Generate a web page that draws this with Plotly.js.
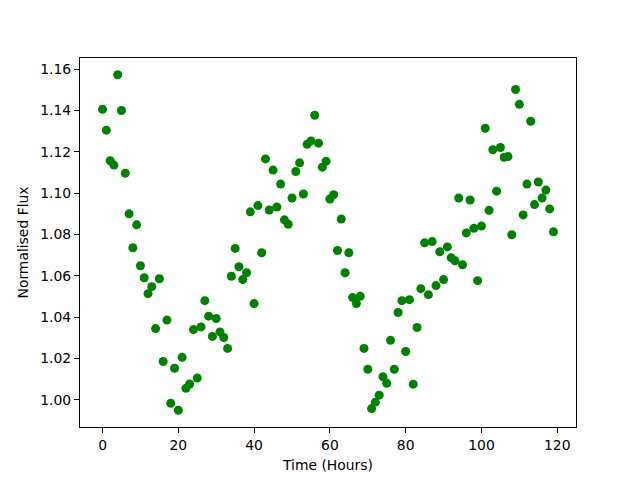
<!DOCTYPE html>
<html>
<head>
<meta charset="utf-8">
<script src="https://cdn.plot.ly/plotly-3.0.1.min.js"></script>
<style>html,body{margin:0;padding:0;background:#fff;}#chart{width:640px;height:480px;}</style>
</head>
<body>
<div id="chart"></div>
<script>
// Time in hours (one observation per hour)
const hours = [
  0,1,2,3,4,5,6,7,8,9,10,11,12,13,14,15,16,17,18,19,
  20,21,22,23,24,25,26,27,28,29,30,31,32,33,34,35,36,37,38,39,
  40,41,42,43,44,45,46,47,48,49,50,51,52,53,54,55,56,57,58,59,
  60,61,62,63,64,65,66,67,68,69,70,71,72,73,74,75,76,77,78,79,
  80,81,82,83,84,85,86,87,88,89,90,91,92,93,94,95,96,97,98,99,
  100,101,102,103,104,105,106,107,108,109,110,111,112,113,114,115,116,117,118,119
];
// Normalised flux values
const flux = [
  1.1406,1.1305,1.1157,1.1136,1.1573,1.1400,1.1097,1.0900,1.0736,1.0847,
  1.0649,1.0591,1.0514,1.0548,1.0345,1.0586,1.0186,1.0386,0.9984,1.0153,
  0.9950,1.0206,1.0056,1.0077,1.0340,1.0106,1.0353,1.0480,1.0405,1.0307,
  1.0394,1.0329,1.0302,1.0249,1.0598,1.0733,1.0644,1.0582,1.0615,1.0910,
  1.0466,1.0940,1.0712,1.1166,1.0919,1.1112,1.0933,1.1044,1.0871,1.0850,
  1.0977,1.1105,1.1147,1.0996,1.1237,1.1253,1.1377,1.1242,1.1126,1.1155,
  1.0972,1.0993,1.0723,1.0875,1.0615,1.0712,1.0495,1.0466,1.0501,1.0249,
  1.0148,0.9958,0.9989,1.0023,1.0112,1.0080,1.0288,1.0148,1.0423,1.0480,
  1.0234,1.0485,1.0076,1.0350,1.0538,1.0760,1.0509,1.0766,1.0553,1.0717,
  1.0582,1.0740,1.0688,1.0673,1.0977,1.0654,1.0808,1.0967,1.0830,1.0577,
  1.0841,1.1314,1.0917,1.1210,1.1010,1.1221,1.1174,1.1177,1.0799,1.1502,
  1.1430,1.0895,1.1044,1.1348,1.0945,1.1054,1.0977,1.1015,1.0924,1.0813
];
const xTicks = [0,20,40,60,80,100,120];
const yTicks = [1.00,1.02,1.04,1.06,1.08,1.10,1.12,1.14,1.16];

function padRange(arr){
  const mn = Math.min(...arr), mx = Math.max(...arr);
  const p = (mx - mn) * 0.05;
  return [mn - p, mx + p];
}

const font = {family: 'DejaVu Sans, sans-serif', size: 13.9, color: '#000'};
const axisCommon = {
  showgrid: false, zeroline: false, showline: true, mirror: true,
  linecolor: '#000', linewidth: 1, ticks: 'outside', ticklen: 5,
  tickwidth: 1, tickcolor: '#000', tickfont: font
};

Plotly.newPlot('chart', [{
  x: hours, y: flux, type: 'scatter', mode: 'markers',
  marker: {color: '#008000', size: 9, line: {width: 0}},
  hoverinfo: 'x+y'
}], {
  width: 640, height: 480,
  margin: {l: 80, r: 64, t: 58, b: 53, pad: 0},
  paper_bgcolor: '#fff', plot_bgcolor: '#fff',
  font: font,
  showlegend: false,
  xaxis: Object.assign({}, axisCommon, {
    range: padRange(hours), tickmode: 'array', tickvals: xTicks,
    ticktext: xTicks.map(String),
    title: {text: 'Time (Hours)', font: font, standoff: 8}
  }),
  yaxis: Object.assign({}, axisCommon, {
    range: padRange(flux), tickmode: 'array', tickvals: yTicks,
    ticktext: yTicks.map(v => v.toFixed(2)),
    title: {text: 'Normalised Flux', font: font, standoff: 8}
  })
}, {displayModeBar: false, staticPlot: true});
</script>
</body>
</html>
